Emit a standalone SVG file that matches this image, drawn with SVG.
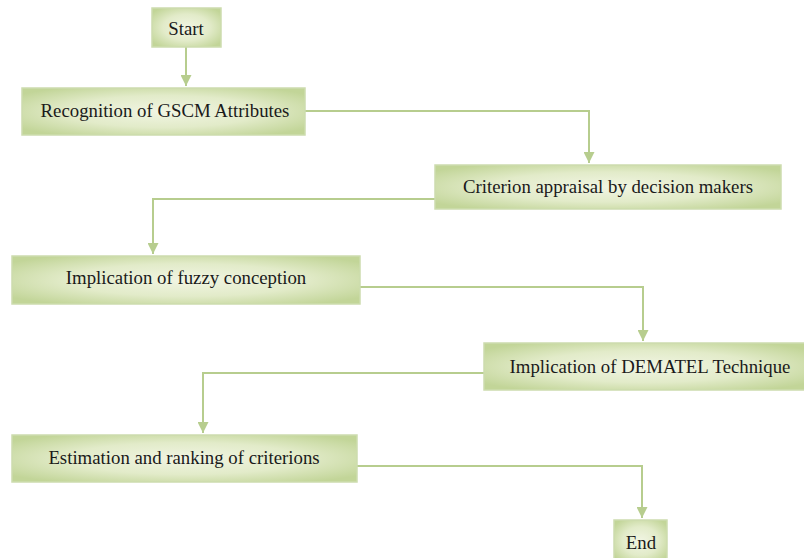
<svg xmlns="http://www.w3.org/2000/svg" width="804" height="558" viewBox="0 0 804 558">
<defs>
<radialGradient id="g" cx="50%" cy="50%" r="62%">
<stop offset="0" stop-color="#f1f5e3"/>
<stop offset="0.55" stop-color="#e2ebc9"/>
<stop offset="1" stop-color="#c2d598"/>
</radialGradient>
<marker id="a" markerWidth="11" markerHeight="11" refX="10" refY="5" orient="auto" markerUnits="userSpaceOnUse" viewBox="0 0 10 10">
<path d="M0,0 L10,5 L0,10 z" fill="#b7cd8e"/>
</marker>
<style>
.box{fill:url(#g);stroke:#cddcae;stroke-width:1.5}
.t{font-family:"Liberation Serif","Times New Roman",serif;font-size:18.8px;fill:#1a1a1a;text-anchor:middle}
.c{fill:none;stroke:#b7cd8e;stroke-width:2}
</style>
</defs>
<rect width="804" height="558" fill="#ffffff"/>
<g id="connectors">
<path class="c" d="M186,47 V86" marker-end="url(#a)"/>
<path class="c" d="M305,111 H589 V163" marker-end="url(#a)"/>
<path class="c" d="M435,199 H153 V254" marker-end="url(#a)"/>
<path class="c" d="M360,287 H643 V341" marker-end="url(#a)"/>
<path class="c" d="M484,373 H203 V433" marker-end="url(#a)"/>
<path class="c" d="M357,466 H642 V518" marker-end="url(#a)"/>
</g>
<g id="start"><rect class="box" x="152" y="8" width="69" height="39"/><text class="t" x="186" y="35">Start</text></g>
<g id="recognition"><rect class="box" x="22" y="88" width="283" height="47"/><text class="t" x="165" y="117">Recognition of GSCM Attributes</text></g>
<g id="criterion"><rect class="box" x="435" y="165" width="346" height="44"/><text class="t" x="608" y="193">Criterion appraisal by decision makers</text></g>
<g id="fuzzy"><rect class="box" x="12" y="256" width="348" height="48"/><text class="t" x="186" y="284">Implication of fuzzy conception</text></g>
<g id="dematel"><rect class="box" x="484" y="343" width="322" height="47"/><text class="t" x="650" y="373">Implication of DEMATEL Technique</text></g>
<g id="estimation"><rect class="box" x="12" y="435" width="345" height="47"/><text class="t" x="184" y="464">Estimation and ranking of criterions</text></g>
<g id="end"><rect class="box" x="614" y="520" width="53" height="42"/><text class="t" x="641" y="549">End</text></g>
</svg>
